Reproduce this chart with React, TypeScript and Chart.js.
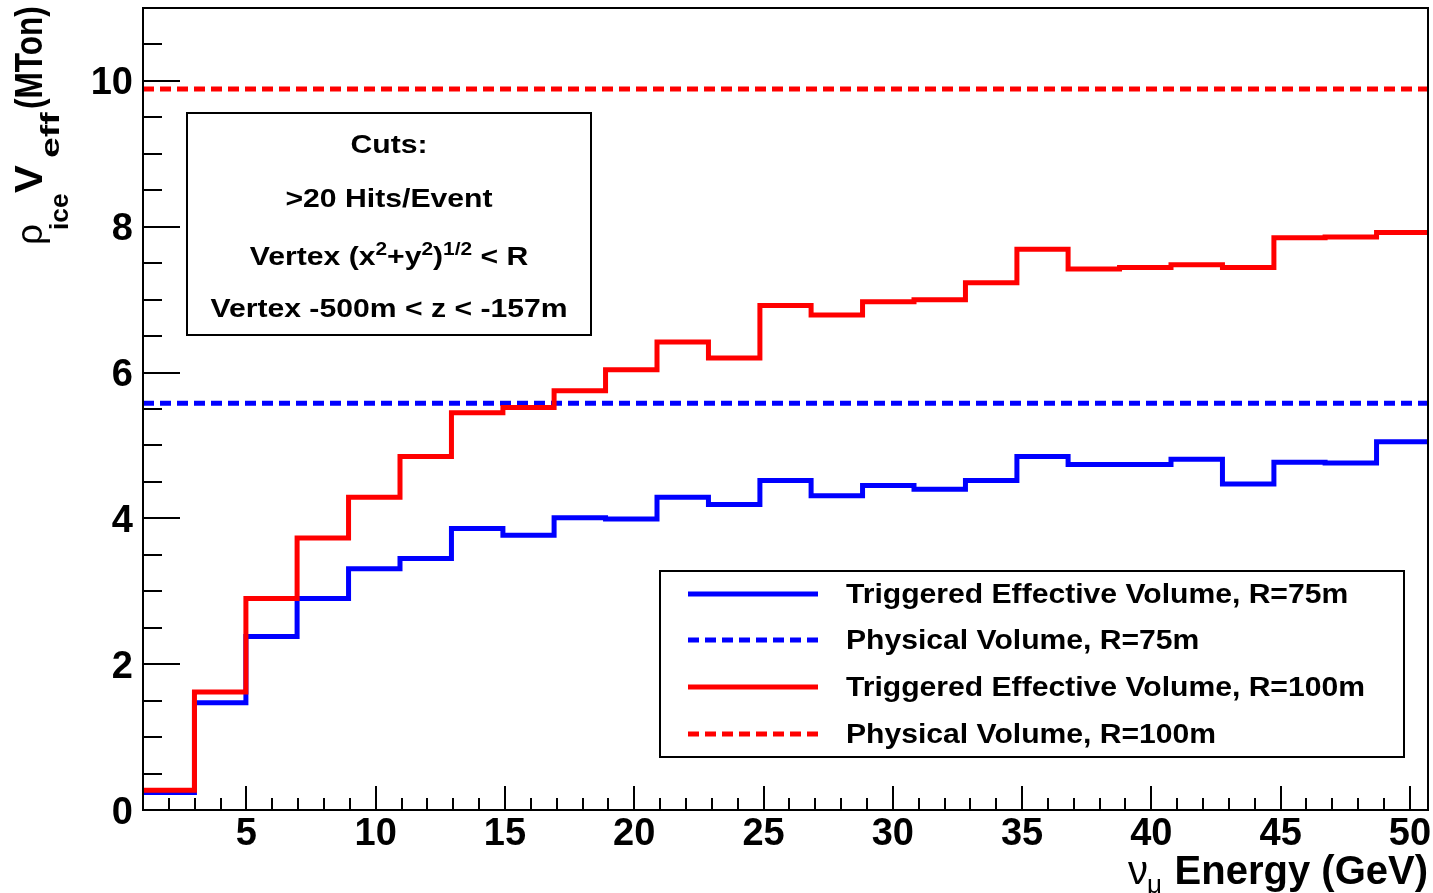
import React, { useEffect, useRef } from 'react';
import { Chart, registerables } from 'chart.js';

Chart.register(...registerables);

// ---- data ----
const BIN_EDGES = [1, 2.99, 4.98, 6.96, 8.95, 10.94, 12.93, 14.92, 16.9, 18.89, 20.88, 22.87, 24.86, 26.84, 28.83, 30.82, 32.81, 34.8, 36.78, 38.77, 40.76, 42.75, 44.74, 46.72, 48.71, 50.7];
const TRIG_R75 = [0.24, 1.47, 2.38, 2.9, 3.31, 3.45, 3.86, 3.77, 4.01, 3.99, 4.29, 4.19, 4.52, 4.31, 4.45, 4.4, 4.52, 4.85, 4.74, 4.74, 4.81, 4.47, 4.77, 4.76, 5.05];
const TRIG_R100 = [0.27, 1.62, 2.9, 3.73, 4.29, 4.85, 5.45, 5.52, 5.75, 6.04, 6.42, 6.2, 6.92, 6.79, 6.97, 7.0, 7.23, 7.69, 7.42, 7.44, 7.48, 7.44, 7.85, 7.86, 7.92];
const PHYS_R75 = 5.58;
const PHYS_R100 = 9.89;
const LEGEND_LABELS = [
  'Triggered Effective Volume, R=75m',
  'Physical Volume, R=75m',
  'Triggered Effective Volume, R=100m',
  'Physical Volume, R=100m',
];
const X_MIN = 1;
const X_MAX = 50.7;
const Y_MIN = 0;
const Y_MAX = 11;
const X_TICKS = [5, 10, 15, 20, 25, 30, 35, 40, 45, 50];
const Y_TICKS = [0, 2, 4, 6, 8, 10];
const X_MINOR_STEP = 1;
const Y_MINOR_STEP = 0.5;
const CUTS_LINES = ['Cuts:', '>20 Hits/Event', 'VERTEX_R', 'Vertex -500m < z < -157m'];

const BLUE = '#0000ff';
const RED = '#ff0000';
const FONT = "'Liberation Sans', Arial, Helvetica, sans-serif";

function histPoints(vals: number[]) {
  return BIN_EDGES.map((x, i) => ({ x, y: vals[Math.min(i, vals.length - 1)] }));
}
function flatLine(v: number) {
  return [{ x: X_MIN, y: v }, { x: X_MAX, y: v }];
}

type Piece = { t: string; font: string; dy?: number; sx?: number };

function measurePieces(ctx: CanvasRenderingContext2D, pieces: Piece[]) {
  let w = 0;
  for (const p of pieces) {
    ctx.font = p.font;
    w += ctx.measureText(p.t).width * (p.sx ?? 1);
  }
  return w;
}
function drawPieces(ctx: CanvasRenderingContext2D, pieces: Piece[], x: number, y: number) {
  let cx = x;
  for (const p of pieces) {
    ctx.font = p.font;
    const sx = p.sx ?? 1;
    ctx.save();
    ctx.translate(cx, y + (p.dy ?? 0));
    ctx.scale(sx, 1);
    ctx.textAlign = 'left';
    ctx.textBaseline = 'alphabetic';
    ctx.fillText(p.t, 0, 0);
    ctx.restore();
    cx += ctx.measureText(p.t).width * sx;
  }
}
function drawScaled(ctx: CanvasRenderingContext2D, t: string, font: string, x: number, y: number, sx: number) {
  ctx.save();
  ctx.font = font;
  ctx.translate(x, y);
  ctx.scale(sx, 1);
  ctx.textAlign = 'left';
  ctx.textBaseline = 'alphabetic';
  ctx.fillText(t, 0, 0);
  ctx.restore();
}

const decor = {
  id: 'rootDecor',
  afterDatasetsDraw(chart: any) {
    const { ctx, chartArea: a, scales } = chart;
    const xs = scales.x;
    const ys = scales.y;
    ctx.save();
    ctx.fillStyle = '#000';
    ctx.strokeStyle = '#000';
    ctx.lineCap = 'butt';

    // frame
    ctx.lineWidth = 2;
    ctx.strokeRect(a.left, a.top, a.right - a.left, a.bottom - a.top);

    // y ticks (inside)
    for (let v = Y_MIN; v <= Y_MAX + 1e-9; v += Y_MINOR_STEP) {
      const py = Math.round(ys.getPixelForValue(v));
      const major = Y_TICKS.some((t) => Math.abs(t - v) < 1e-6);
      const len = major ? 37 : 19;
      ctx.beginPath();
      ctx.moveTo(a.left, py);
      ctx.lineTo(a.left + len, py);
      ctx.stroke();
    }
    // x ticks (inside)
    for (let v = Math.ceil(X_MIN + 0.01); v <= X_MAX; v += X_MINOR_STEP) {
      const px = Math.round(xs.getPixelForValue(v));
      const major = X_TICKS.includes(v);
      const len = major ? 24 : 12;
      ctx.beginPath();
      ctx.moveTo(px, a.bottom);
      ctx.lineTo(px, a.bottom - len);
      ctx.stroke();
    }

    // tick labels
    ctx.font = `bold 38px ${FONT}`;
    ctx.textBaseline = 'alphabetic';
    ctx.textAlign = 'right';
    for (const t of ys.ticks) {
      const py = ys.getPixelForValue(t.value);
      ctx.fillText(String(t.value), a.left - 10, py + 13.5);
    }
    ctx.textAlign = 'center';
    for (const t of xs.ticks) {
      const px = xs.getPixelForValue(t.value);
      ctx.fillText(String(t.value), px, a.bottom + 35);
    }

    // x title
    ctx.textAlign = 'right';
    ctx.font = `bold 40px ${FONT}`;
    ctx.fillText('Energy (GeV)', a.right, 884);
    ctx.textAlign = 'left';
    ctx.font = `40px ${FONT}`;
    ctx.fillText('ν', 1128, 884);
    ctx.font = `26px ${FONT}`;
    ctx.fillText('μ', 1147, 893);

    // y title (rotated)
    ctx.save();
    ctx.translate(42, 246);
    ctx.rotate(-Math.PI / 2);
    drawScaled(ctx, 'ρ', `37px ${FONT}`, 1, 0, 1);
    drawScaled(ctx, 'ice', `bold 25px ${FONT}`, 16, 26, 1.05);
    drawScaled(ctx, 'V', `bold 38px ${FONT}`, 53, 0, 1.1);
    drawScaled(ctx, 'eff', `bold 25px ${FONT}`, 88, 17, 1.5);
    drawScaled(ctx, '(MTon)', `bold 38px ${FONT}`, 137, 0, 0.83);
    ctx.restore();

    // cuts box
    const bx = 187, by = 113, bw = 404, bh = 222;
    ctx.fillStyle = '#fff';
    ctx.fillRect(bx, by, bw, bh);
    ctx.lineWidth = 2;
    ctx.strokeRect(bx, by, bw, bh);
    ctx.fillStyle = '#000';
    const cxMid = bx + bw / 2;
    const base = [153, 207, 265, 317];
    const sx = 1.16;
    const main = `bold 26px ${FONT}`;
    const sup = `bold 18px ${FONT}`;
    CUTS_LINES.forEach((line, i) => {
      let pieces: Piece[];
      if (line === 'VERTEX_R') {
        pieces = [
          { t: 'Vertex (x', font: main, sx },
          { t: '2', font: sup, dy: -10, sx },
          { t: '+y', font: main, sx },
          { t: '2', font: sup, dy: -10, sx },
          { t: ')', font: main, sx },
          { t: '1/2', font: sup, dy: -10, sx },
          { t: ' < R', font: main, sx },
        ];
      } else {
        pieces = [{ t: line, font: main, sx }];
      }
      const w = measurePieces(ctx, pieces);
      drawPieces(ctx, pieces, cxMid - w / 2, base[i]);
    });

    // legend box
    const lx = 660, ly = 571, lw = 744, lh = 186;
    ctx.fillStyle = '#fff';
    ctx.fillRect(lx, ly, lw, lh);
    ctx.strokeStyle = '#000';
    ctx.lineWidth = 2;
    ctx.strokeRect(lx, ly, lw, lh);
    const rowY = [594, 640, 687, 734];
    chart.data.datasets.forEach((ds: any, i: number) => {
      const yy = rowY[i];
      ctx.save();
      ctx.strokeStyle = ds.borderColor;
      ctx.lineWidth = ds.borderWidth;
      ctx.setLineDash(ds.borderDash || []);
      ctx.beginPath();
      ctx.moveTo(688, yy);
      ctx.lineTo(818, yy);
      ctx.stroke();
      ctx.restore();
      ctx.fillStyle = '#000';
      drawPieces(ctx, [{ t: ds.label, font: `bold 27px ${FONT}`, sx: 1.115 }], 846, yy + 8.5);
    });

    ctx.restore();
  },
};

export default function App() {
  const ref = useRef<HTMLCanvasElement>(null);
  useEffect(() => {
    const canvas = ref.current;
    if (!canvas) return;
    const common = { pointRadius: 0, pointHoverRadius: 0, fill: false, tension: 0, borderCapStyle: 'butt', borderJoinStyle: 'miter' };
    const chart = new Chart(canvas, {
      type: 'line',
      data: {
        datasets: [
          { ...common, label: LEGEND_LABELS[0], data: histPoints(TRIG_R75), borderColor: BLUE, borderWidth: 5, stepped: 'before', order: 4 },
          { ...common, label: LEGEND_LABELS[1], data: flatLine(PHYS_R75), borderColor: BLUE, borderWidth: 5, borderDash: [11, 6], order: 3 },
          { ...common, label: LEGEND_LABELS[2], data: histPoints(TRIG_R100), borderColor: RED, borderWidth: 5, stepped: 'before', order: 2 },
          { ...common, label: LEGEND_LABELS[3], data: flatLine(PHYS_R100), borderColor: RED, borderWidth: 5, borderDash: [11, 6], order: 1 },
        ] as any,
      },
      options: {
        responsive: false,
        maintainAspectRatio: false,
        animation: false,
        events: [],
        layout: { padding: { top: 8, right: 5, left: 0, bottom: 0 } },
        plugins: { legend: { display: false }, tooltip: { enabled: false } },
        scales: {
          x: {
            type: 'linear',
            min: X_MIN,
            max: X_MAX,
            grid: { display: false, drawTicks: false },
            border: { display: false },
            ticks: { display: false },
            afterBuildTicks: (s: any) => { s.ticks = X_TICKS.map((v) => ({ value: v })); },
            afterFit: (s: any) => { s.height = 83; },
          },
          y: {
            type: 'linear',
            min: Y_MIN,
            max: Y_MAX,
            grid: { display: false, drawTicks: false },
            border: { display: false },
            ticks: { display: false },
            afterBuildTicks: (s: any) => { s.ticks = Y_TICKS.map((v) => ({ value: v })); },
            afterFit: (s: any) => { s.width = 143; },
          },
        },
      } as any,
      plugins: [decor],
    });
    return () => chart.destroy();
  }, []);
  return (
    <div style={{ position: 'fixed', left: 0, top: 0, width: 1433, height: 893, background: '#fff' }}>
      <canvas ref={ref} width={1433} height={893} style={{ display: 'block', width: 1433, height: 893 }} />
    </div>
  );
}
